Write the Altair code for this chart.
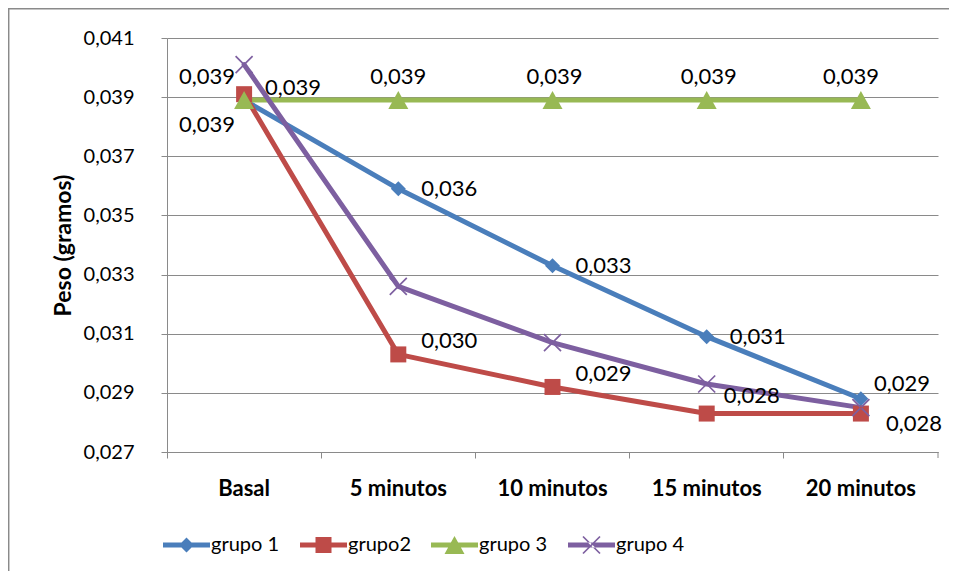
import altair as alt
import pandas as pd

# ---------------- data ----------------
categorias = ["Basal", "5 minutos", "10 minutos", "15 minutos", "20 minutos"]
series = ["grupo 1", "grupo2", "grupo 3", "grupo 4"]
grupo_1 = [0.0389, 0.0359, 0.0333, 0.0309, 0.0288]
grupo_2 = [0.0391, 0.0303, 0.0292, 0.0283, 0.0283]
grupo_3 = [0.0389, 0.0389, 0.0389, 0.0389, 0.0389]
grupo_4 = [0.0401, 0.0326, 0.0307, 0.0293, 0.0285]
y_ticks = [0.027, 0.029, 0.031, 0.033, 0.035, 0.037, 0.039, 0.041]

valores = {"grupo 1": grupo_1, "grupo2": grupo_2, "grupo 3": grupo_3, "grupo 4": grupo_4}

# ---------------- style ----------------
colores = ["#4A7EBB", "#BE4B48", "#98B954", "#7D5FA0"]
FONT = "Lato"
GRIS = "#8a8a8a"

# marker outlines (unit coordinates, scaled by the symbol size)
marcadores = {
    "grupo 1": [[(0, -0.75), (0.75, 0), (0, 0.75), (-0.75, 0)]],
    "grupo2": [[(-0.8, -0.8), (0.8, -0.8), (0.8, 0.8), (-0.8, 0.8)]],
    "grupo 3": [[(0, -0.9), (1.0, 0.9), (-1.0, 0.9)]],
    "grupo 4": [[(-0.79, -0.91), (0.91, 0.79), (0.79, 0.91), (-0.91, -0.79)],
                [(-0.79, 0.91), (0.91, -0.79), (0.79, -0.91), (-0.91, 0.79)]],
}


def ruta(polys, dx=0.0):
    out = ""
    for p in polys:
        out += "M" + "L".join(f"{x + dx:.3f},{y:.3f}" for x, y in p) + "Z"
    return out


rutas_plot = [ruta(marcadores[s]) for s in series]
BARRA = [(-1.0, -0.24), (3.7, -0.24), (3.7, 0.24), (-1.0, 0.24)]
BARRA_INV = list(reversed(BARRA))
rutas_leyenda = []
for s in series:
    barra = BARRA if s != "grupo 4" else BARRA_INV
    rutas_leyenda.append(ruta([barra]) + ruta(marcadores[s], dx=1.35))

# label placement per point: (align, dx, dy)
estilo_etiquetas = {
    ("grupo 1", "Basal"): ("right", -9, 25),
    ("grupo2", "Basal"): ("left", 21, -6),
    ("grupo 3", "Basal"): ("right", -9, -23),
    ("grupo 1", "5 minutos"): ("left", 23, 0),
    ("grupo 1", "10 minutos"): ("left", 23, 0),
    ("grupo 1", "15 minutos"): ("left", 23, 0),
    ("grupo 1", "20 minutos"): ("left", 13, -15),
    ("grupo2", "5 minutos"): ("left", 23, -13),
    ("grupo2", "10 minutos"): ("left", 23, -13),
    ("grupo2", "15 minutos"): ("left", 17, -18),
    ("grupo2", "20 minutos"): ("left", 25, 10),
    ("grupo 3", "5 minutos"): ("center", 0, -23),
    ("grupo 3", "10 minutos"): ("center", 2, -23),
    ("grupo 3", "15 minutos"): ("center", 2, -23),
    ("grupo 3", "20 minutos"): ("center", -10, -23),
}

# ---------------- table ----------------
filas = []
for s in series:
    for c, v in zip(categorias, valores[s]):
        filas.append({"serie": s, "categoria": c, "peso": v, "clave": s + "|" + c})
df = pd.DataFrame(filas)

x_enc = alt.X(
    "categoria:N",
    sort=categorias,
    scale=alt.Scale(type="band", domain=categorias, paddingInner=0, paddingOuter=0),
    axis=alt.Axis(
        title=None, labelAngle=0, labelFont=FONT, labelFontWeight="bold", labelFontSize=22,
        labelColor="black", tickSize=6, tickColor=GRIS, domainColor=GRIS, tickWidth=1,
        labelPadding=30, labelBaseline="middle", bandPosition=0, grid=False,
    ),
)
y_enc = alt.Y(
    "peso:Q",
    scale=alt.Scale(domain=[0.027, 0.041], nice=False, zero=False),
    axis=alt.Axis(
        title="Peso (gramos)", values=y_ticks,
        labelExpr="replace(format(datum.value, '.3f'), '.', ',')",
        labelFont=FONT, labelFontSize=20, labelColor="black",
        tickSize=6, tickColor=GRIS, domainColor=GRIS, gridColor=GRIS, grid=True,
        labelPadding=27, titleFont=FONT, titleFontSize=23, titleFontWeight="bold",
        titleColor="black", titleX=-104, titleY=207, titleAlign="center",
        titleBaseline="middle", titleAngle=270,
    ),
)
color_scale = alt.Scale(domain=series, range=colores)

base = alt.Chart(df).transform_calculate(
    etiqueta="replace(format(datum.peso, '.3f'), '.', ',')"
)

lineas = base.mark_line(strokeWidth=5, strokeJoin="round", strokeCap="round").encode(
    x=x_enc, y=y_enc,
    color=alt.Color("serie:N", scale=color_scale, legend=None),
    detail="serie:N",
)

puntos = base.mark_point(filled=True, opacity=1, size=400).encode(
    x=x_enc, y=y_enc,
    color=alt.Color("serie:N", scale=color_scale, legend=None),
    shape=alt.Shape("serie:N", scale=alt.Scale(domain=series, range=rutas_plot), legend=None),
)

leyenda = alt.Legend(
    title=None, orient="none", legendX=-4, legendY=497, direction="horizontal",
    symbolSize=400, symbolStrokeWidth=0, labelFont=FONT, labelFontSize=20,
    labelColor="black", labelOffset=28, columnPadding=20, padding=0,
)
capa_leyenda = alt.Chart(df).transform_filter("false").mark_point(
    filled=True, opacity=1, size=400
).encode(
    color=alt.Color("serie:N", scale=color_scale, legend=leyenda),
    shape=alt.Shape("serie:N", scale=alt.Scale(domain=series, range=rutas_leyenda), legend=leyenda),
)

# data labels, grouped by placement style
grupos = {}
for (s, c), est in estilo_etiquetas.items():
    grupos.setdefault(est, []).append(s + "|" + c)
capas_texto = []
for (align, dx, dy), claves in grupos.items():
    capas_texto.append(
        base.transform_filter(alt.FieldOneOfPredicate(field="clave", oneOf=claves))
        .mark_text(align=align, dx=dx, dy=dy, baseline="middle", font=FONT,
                   fontSize=22, color="black")
        .encode(x=x_enc, y=y_enc, text="etiqueta:N")
    )

marco = alt.Chart(pd.DataFrame({"d": [0]}))
borde_izq = marco.mark_rule(color="#8a8a8a", strokeWidth=1.5).encode(
    x=alt.value(-158.3), y=alt.value(-29.3), y2=alt.value(540)
)
borde_sup = marco.mark_rule(color="#8a8a8a", strokeWidth=1.5).encode(
    x=alt.value(-159), x2=alt.value(790), y=alt.value(-29.3)
)
tick_final = marco.mark_rule(color=GRIS, strokeWidth=1).encode(
    x=alt.value(771), y=alt.value(414), y2=alt.value(420)
)

chart = (
    alt.layer(lineas, puntos, *capas_texto, capa_leyenda, borde_izq, borde_sup, tick_final)
    .resolve_scale(shape="independent", color="independent")
    .properties(
        width=771, height=414,
        autosize=alt.AutoSizeParams(type="none"),
        padding={"left": 159, "top": 30, "right": 11, "bottom": 119},
        background="white",
    )
    .configure_view(stroke=None)
)

chart.save("out.html", embed_options={"renderer": "svg", "actions": False})
